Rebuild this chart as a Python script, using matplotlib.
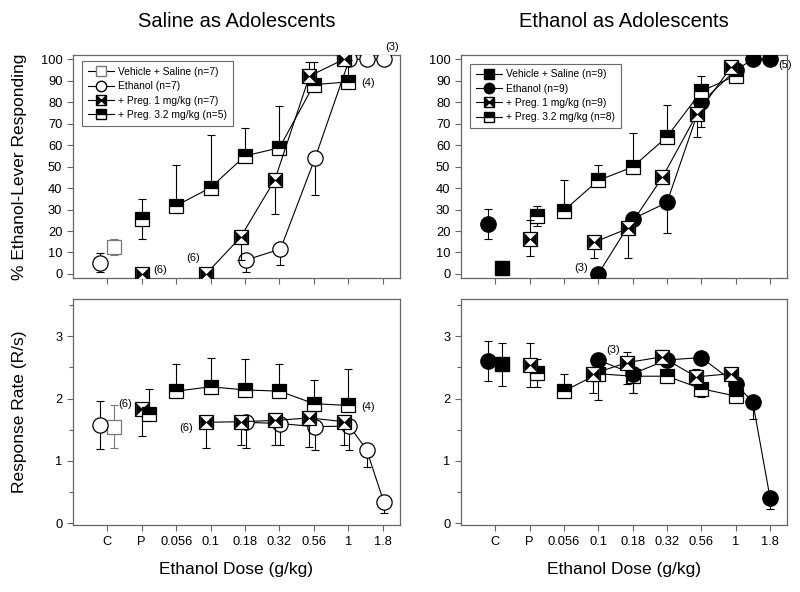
import numpy as np
import matplotlib
matplotlib.use('Agg')
import matplotlib.pyplot as plt
from matplotlib.path import Path
from matplotlib.lines import Line2D

plt.rcParams['font.family'] = ['Liberation Sans', 'DejaVu Sans']

# x categories
tick_labels = ['C', 'P', '0.056', '0.1', '0.18', '0.32', '0.56', '1', '1.8']
POS = {'C': 0, 'P': 1, '0.056': 2, '0.1': 3, '0.18': 4, '0.32': 5,
       '0.56': 6, '1': 7, '1.3': 7.5, '1.8': 8}

# ---- Saline as Adolescents, % ethanol-lever responding
sal_veh_doses = ['C']
sal_veh_resp = [12.4]
sal_veh_resp_lo = [3.8]
sal_veh_resp_hi = [3.8]

sal_eth_doses = ['C', '0.18', '0.32', '0.56', '1', '1.3', '1.8']
sal_eth_resp = [5.3, 6.5, 11.6, 53.8, 100, 100, 100]
sal_eth_resp_lo = [4.5, 5.7, 7.6, 17.0, 0, 0, 0]
sal_eth_resp_hi = [4.3, 0, 0, 0, 0, 0, 0]

sal_p1_doses = ['P', '0.1', '0.18', '0.32', '0.56', '1']
sal_p1_resp = [0, 0, 17.1, 44.0, 92.2, 100]
sal_p1_resp_lo = [0, 0, 10.6, 16.2, 0, 0]
sal_p1_resp_hi = [0, 0, 0, 0, 6.5, 0]

sal_p32_doses = ['P', '0.056', '0.1', '0.18', '0.32', '0.56', '1']
sal_p32_resp = [25.6, 31.8, 40.2, 55.0, 58.8, 88.2, 89.5]
sal_p32_resp_lo = [9.5, 0, 0, 0, 0, 0, 0]
sal_p32_resp_hi = [9.1, 19.2, 24.5, 13.2, 19.6, 10.5, 10.0]

# ---- Ethanol as Adolescents, % ethanol-lever responding
eth_veh_doses = ['C']
eth_veh_resp = [3.0]
eth_veh_resp_lo = [0]
eth_veh_resp_hi = [0]

eth_eth_doses = ['C', '0.1', '0.18', '0.32', '0.56', '1', '1.3', '1.8']
eth_eth_resp = [23.1, 0, 25.6, 33.3, 79.9, 95.0, 100, 100]
eth_eth_resp_lo = [7.0, 0, 0, 14.4, 11.6, 0, 0, 0]
eth_eth_resp_hi = [7.0, 0, 0, 0, 0, 0, 0, 0]

eth_p1_doses = ['P', '0.1', '0.18', '0.32', '0.56', '1']
eth_p1_resp = [16.4, 14.7, 21.2, 45.1, 74.4, 96.4]
eth_p1_resp_lo = [8.0, 7.4, 14.0, 0, 10.7, 0]
eth_p1_resp_hi = [8.6, 0, 0, 0, 0, 0]

eth_p32_doses = ['P', '0.056', '0.1', '0.18', '0.32', '0.56', '1']
eth_p32_resp = [27.1, 29.5, 43.6, 49.8, 63.9, 85.1, 92.4]
eth_p32_resp_lo = [4.6, 0, 0, 0, 0, 0, 0]
eth_p32_resp_hi = [4.5, 14.5, 7.0, 16.0, 15.0, 7.3, 0]

# ---- Saline as Adolescents, response rate
sal_veh_rate = [1.55]
sal_veh_rate_lo = [0.35]
sal_veh_rate_hi = [0.35]

sal_eth_rate = [1.57, 1.62, 1.60, 1.55, 1.56, 1.18, 0.34]
sal_eth_rate_lo = [0.38, 0.41, 0.35, 0.37, 0.38, 0.27, 0.17]
sal_eth_rate_hi = [0.39, 0, 0, 0, 0, 0, 0]

sal_p1_rate = [1.84, 1.62, 1.63, 1.65, 1.69, 1.63]
sal_p1_rate_lo = [0.44, 0.41, 0.37, 0.39, 0.46, 0.37]
sal_p1_rate_hi = [0, 0, 0, 0, 0, 0]

sal_p32_rate = [1.75, 2.12, 2.19, 2.14, 2.12, 1.92, 1.89]
sal_p32_rate_lo = [0, 0, 0, 0, 0, 0, 0]
sal_p32_rate_hi = [0.40, 0.44, 0.47, 0.50, 0.43, 0.38, 0.59]

# ---- Ethanol as Adolescents, response rate
eth_veh_rate = [2.55]
eth_veh_rate_lo = [0.34]
eth_veh_rate_hi = [0.34]

eth_eth_rate = [2.61, 2.62, 2.40, 2.62, 2.66, 2.24, 1.94, 0.41]
eth_eth_rate_lo = [0.33, 0, 0.31, 0, 0, 0, 0.27, 0.18]
eth_eth_rate_hi = [0.32, 0.11, 0, 0, 0, 0, 0, 0]

eth_p1_rate = [2.54, 2.40, 2.58, 2.67, 2.35, 2.40]
eth_p1_rate_lo = [0.36, 0.31, 0.34, 0, 0, 0]
eth_p1_rate_hi = [0.35, 0, 0.17, 0, 0.12, 0]

eth_p32_rate = [2.41, 2.12, 2.40, 2.36, 2.36, 2.16, 2.04]
eth_p32_rate_lo = [0.23, 0, 0.42, 0.27, 0, 0.13, 0]
eth_p32_rate_hi = [0.23, 0.28, 0, 0, 0, 0, 0]

# bowtie marker (square with two inward black triangles)
bowtie = Path([(-1, -1), (0, 0), (-1, 1), (-1, -1), (1, -1), (0, 0), (1, 1), (1, -1)],
              [Path.MOVETO, Path.LINETO, Path.LINETO, Path.CLOSEPOLY,
               Path.MOVETO, Path.LINETO, Path.LINETO, Path.CLOSEPOLY])

MS = 10
GRAY = '#777777'
FRAME = '#666666'


def xpos(doses, ctrl_shift, dose_shift):
    return np.array([POS[d] + (ctrl_shift if d in ('C', 'P') else dose_shift) for d in doses])


def draw(ax, doses, vals, lo, hi, kind, ctrl_shift=0.0, dose_shift=0.0, z=3):
    x = xpos(doses, ctrl_shift, dose_shift)
    y = np.array(vals, dtype=float)
    lo = np.array(lo, dtype=float)
    hi = np.array(hi, dtype=float)
    ec = GRAY if kind == 'open_sq' else 'black'
    ax.errorbar(x, y, yerr=[lo, hi], fmt='none', ecolor=ec, elinewidth=0.8,
                capsize=3, capthick=0.8, zorder=z - 0.5)
    ctrl = np.array([d in ('C', 'P') for d in doses])
    if (~ctrl).sum() > 1:
        ax.plot(x[~ctrl], y[~ctrl], '-', color='black', lw=0.8, zorder=z - 0.2)
    if kind == 'open_sq':
        ax.plot(x, y, 's', ms=MS, mfc='white', mec=GRAY, mew=0.9, ls='none', zorder=z)
    elif kind == 'open_circ':
        ax.plot(x, y, 'o', ms=MS + 1, mfc='white', mec='black', mew=0.9, ls='none', zorder=z)
    elif kind == 'fill_sq':
        ax.plot(x, y, 's', ms=MS, mfc='black', mec='black', ls='none', zorder=z)
    elif kind == 'fill_circ':
        ax.plot(x, y, 'o', ms=MS + 1, mfc='black', mec='black', ls='none', zorder=z)
    elif kind == 'bowtie':
        ax.plot(x, y, 's', ms=MS, mfc='white', mec='black', mew=0.9, ls='none', zorder=z)
        ax.plot(x, y, marker=bowtie, ms=MS - 1, mfc='black', mec='black', mew=0.3,
                ls='none', zorder=z + 0.1)
    elif kind == 'half':
        ax.plot(x, y, 's', ms=MS, fillstyle='top', mfc='black', mfcalt='white',
                mec='black', mew=0.9, ls='none', zorder=z)
    return x, y


def style(ax, top):
    ax.set_xlim(-1.0, 8.5)
    ax.set_xticks(range(len(tick_labels)))
    for s in ax.spines.values():
        s.set_color(FRAME)
        s.set_linewidth(0.9)
    ax.tick_params(direction='out', length=4, width=0.8, color=FRAME, labelsize=9.3)
    ax.tick_params(which='minor', direction='out', length=3, width=0.8, color=FRAME)
    if top:
        ax.set_ylim(-2, 102)
        ax.set_yticks(range(0, 101, 10))
        ax.set_xticklabels([])
    else:
        ax.set_ylim(-0.03, 3.6)
        ax.set_yticks([0, 1, 2, 3])
        ax.set_yticks([0.5, 1.5, 2.5, 3.5], minor=True)
        ax.set_xticklabels(tick_labels)
        ax.set_xlabel('Ethanol Dose (g/kg)', fontsize=12.5)
        ax.xaxis.set_label_coords(0.5, -0.165)


fig = plt.figure(figsize=(8.0, 5.92), dpi=100)
ax_tl = fig.add_axes([0.091, 0.530, 0.409, 0.377])
ax_tr = fig.add_axes([0.576, 0.530, 0.408, 0.377])
ax_bl = fig.add_axes([0.091, 0.113, 0.409, 0.382])
ax_br = fig.add_axes([0.576, 0.113, 0.408, 0.382])

txt = dict(fontsize=8, textcoords='offset points', annotation_clip=False)

# top left
draw(ax_tl, sal_veh_doses, sal_veh_resp, sal_veh_resp_lo, sal_veh_resp_hi, 'open_sq', 0.2)
draw(ax_tl, sal_eth_doses, sal_eth_resp, sal_eth_resp_lo, sal_eth_resp_hi, 'open_circ', -0.22, 0.03)
x, y = draw(ax_tl, sal_p32_doses, sal_p32_resp, sal_p32_resp_lo, sal_p32_resp_hi, 'half', 0.0, 0.0, z=4)
ax_tl.annotate('(4)', (x[-1], y[-1]), xytext=(9, -3), **txt)
x, y = draw(ax_tl, sal_p1_doses, sal_p1_resp, sal_p1_resp_lo, sal_p1_resp_hi, 'bowtie', 0.0, -0.13, z=5)
ax_tl.annotate('(6)', (x[0], y[0]), xytext=(8, 1), **txt)
ax_tl.annotate('(6)', (x[1], y[1]), xytext=(-14, 9), **txt)
ex = xpos(sal_eth_doses, -0.22, 0.03)
ax_tl.annotate('(3)', (ex[-1], sal_eth_resp[-1]), xytext=(1, 7), **txt)
style(ax_tl, True)
ax_tl.set_ylabel('% Ethanol-Lever Responding', fontsize=12.5)
ax_tl.yaxis.set_label_coords(-0.14, 0.5)
ax_tl.set_title('Saline as Adolescents', fontsize=14.5, pad=20)

# top right
draw(ax_tr, eth_veh_doses, eth_veh_resp, eth_veh_resp_lo, eth_veh_resp_hi, 'fill_sq', 0.2)
x, y = draw(ax_tr, eth_eth_doses, eth_eth_resp, eth_eth_resp_lo, eth_eth_resp_hi, 'fill_circ', -0.2, 0.0)
ax_tr.annotate('(3)', (x[1], y[1]), xytext=(-17, 2), **txt)
ax_tr.annotate('(5)', (x[-1], y[-1]), xytext=(6, -6), **txt)
draw(ax_tr, eth_p32_doses, eth_p32_resp, eth_p32_resp_lo, eth_p32_resp_hi, 'half', 0.23, 0.0, z=4)
draw(ax_tr, eth_p1_doses, eth_p1_resp, eth_p1_resp_lo, eth_p1_resp_hi, 'bowtie', 0.0, -0.13, z=5)
style(ax_tr, True)
ax_tr.set_title('Ethanol as Adolescents', fontsize=14.5, pad=20)

# bottom left
draw(ax_bl, sal_veh_doses, sal_veh_rate, sal_veh_rate_lo, sal_veh_rate_hi, 'open_sq', 0.2)
draw(ax_bl, sal_eth_doses, sal_eth_rate, sal_eth_rate_lo, sal_eth_rate_hi, 'open_circ', -0.22, 0.03)
x, y = draw(ax_bl, sal_p1_doses, sal_p1_rate, sal_p1_rate_lo, sal_p1_rate_hi, 'bowtie', 0.0, -0.13, z=4)
ax_bl.annotate('(6)', (x[0], y[0]), xytext=(-17, 1), **txt)
ax_bl.annotate('(6)', (x[1], y[1]), xytext=(-19, -6), **txt)
x, y = draw(ax_bl, sal_p32_doses, sal_p32_rate, sal_p32_rate_lo, sal_p32_rate_hi, 'half', 0.22, 0.0, z=5)
ax_bl.annotate('(4)', (x[-1], y[-1]), xytext=(9, -3), **txt)
style(ax_bl, False)
ax_bl.set_ylabel('Response Rate (R/s)', fontsize=12.5)
ax_bl.yaxis.set_label_coords(-0.14, 0.5)

# bottom right
draw(ax_br, eth_veh_doses, eth_veh_rate, eth_veh_rate_lo, eth_veh_rate_hi, 'fill_sq', 0.2)
draw(ax_br, eth_p32_doses, eth_p32_rate, eth_p32_rate_lo, eth_p32_rate_hi, 'half', 0.23, 0.0, z=3.5)
x, y = draw(ax_br, eth_eth_doses, eth_eth_rate, eth_eth_rate_lo, eth_eth_rate_hi, 'fill_circ', -0.2, 0.0, z=4)
ax_br.annotate('(3)', (x[1], y[1]), xytext=(6, 5), **txt)
draw(ax_br, eth_p1_doses, eth_p1_rate, eth_p1_rate_lo, eth_p1_rate_hi, 'bowtie', 0.0, -0.15, z=5)
style(ax_br, False)


# legends
def legend_handles(veh_kind):
    lkw = dict(color='black', lw=0.8, ms=7.5)
    if veh_kind == 'open':
        veh = Line2D([], [], marker='s', mfc='white', mec=GRAY, **lkw)
        eth = Line2D([], [], marker='o', mfc='white', mec='black', **lkw)
    else:
        veh = Line2D([], [], marker='s', mfc='black', mec='black', **lkw)
        eth = Line2D([], [], marker='o', mfc='black', mec='black', **lkw)
    sq = Line2D([], [], marker='s', mfc='white', mec='black', **lkw)
    bt = Line2D([], [], marker=bowtie, ls='none', mfc='black', mec='black', ms=6.8)
    half = Line2D([], [], marker='s', fillstyle='top', mfc='black', mfcalt='white', mec='black', **lkw)
    return [veh, eth, (sq, bt), half]


leg_kw = dict(loc='upper left', fontsize=7.4, frameon=True, fancybox=False, handlelength=2.6,
              handletextpad=0.4, labelspacing=0.42, borderpad=0.55, edgecolor='#444444')
lg = ax_tl.legend(legend_handles('open'),
                  ['Vehicle + Saline (n=7)', 'Ethanol (n=7)', '+ Preg. 1 mg/kg (n=7)',
                   '+ Preg. 3.2 mg/kg (n=5)'], bbox_to_anchor=(0.012, 0.995), **leg_kw)
lg.get_frame().set_linewidth(0.8)
lg = ax_tr.legend(legend_handles('fill'),
                  ['Vehicle + Saline (n=9)', 'Ethanol (n=9)', '+ Preg. 1 mg/kg (n=9)',
                   '+ Preg. 3.2 mg/kg (n=8)'], bbox_to_anchor=(0.012, 0.985), **leg_kw)
lg.get_frame().set_linewidth(0.8)

plt.savefig('out.png', dpi=100)
